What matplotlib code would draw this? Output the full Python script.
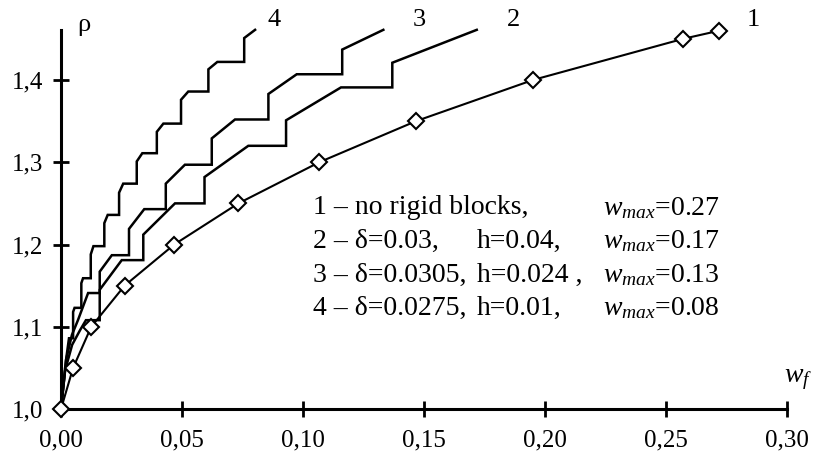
import matplotlib
matplotlib.use("Agg")
import matplotlib.pyplot as plt

plt.rcParams['font.family'] = ['Liberation Serif', 'DejaVu Serif']
plt.rcParams['mathtext.fontset'] = 'custom'
plt.rcParams['mathtext.it'] = 'Liberation Serif:italic'
plt.rcParams['mathtext.rm'] = 'Liberation Serif'

# ---- data ----
x_ticks = [0.00, 0.05, 0.10, 0.15, 0.20, 0.25, 0.30]
x_tick_labels = ["0,00", "0,05", "0,10", "0,15", "0,20", "0,25", "0,30"]
y_ticks = [1.0, 1.1, 1.2, 1.3, 1.4]
y_tick_labels = ["1,0", "1,1", "1,2", "1,3", "1,4"]

# curve 1: no rigid blocks (diamond markers)
x1 = [0.0, 0.0050, 0.0125, 0.0263, 0.0468, 0.0733, 0.1067, 0.1467, 0.195, 0.257, 0.272]
y1 = [1.00, 1.05, 1.10, 1.15, 1.20, 1.25, 1.30, 1.35, 1.40, 1.45, 1.46]

# curve 2
x2 = [0.0, 0.0017, 0.0046, 0.0079, 0.0103, 0.0160, 0.0160, 0.0251, 0.0340, 0.0340,
      0.0471, 0.0593, 0.0593, 0.0774, 0.0930, 0.0930, 0.1157, 0.1369, 0.1369, 0.1718]
y2 = [1.000, 1.047, 1.078, 1.096, 1.108, 1.108, 1.145, 1.181, 1.181, 1.212,
      1.250, 1.250, 1.282, 1.320, 1.320, 1.351, 1.391, 1.391, 1.421, 1.461]

# curve 3
x3 = [0.0, 0.0021, 0.0045, 0.0070, 0.0112, 0.0160, 0.0160, 0.0210, 0.0281, 0.0281,
      0.0344, 0.0433, 0.0433, 0.0512, 0.0623, 0.0623, 0.0719, 0.0857, 0.0857, 0.0974,
      0.1162, 0.1162, 0.1332]
y3 = [1.000, 1.060, 1.090, 1.108, 1.141, 1.141, 1.167, 1.187, 1.187, 1.219,
      1.243, 1.243, 1.274, 1.297, 1.297, 1.329, 1.352, 1.352, 1.383, 1.407,
      1.407, 1.437, 1.461]

# curve 4
x4 = [0.0, 0.0021, 0.0033, 0.0050, 0.0050, 0.0056, 0.0084, 0.0084, 0.0091, 0.0123,
      0.0123, 0.0134, 0.0179, 0.0179, 0.0193, 0.0240, 0.0240, 0.0257, 0.0313, 0.0313,
      0.0336, 0.0396, 0.0396, 0.0423, 0.0496, 0.0496, 0.0526, 0.0609, 0.0609, 0.0646,
      0.0757, 0.0757, 0.0802]
y4 = [1.000, 1.060, 1.086, 1.086, 1.118, 1.123, 1.123, 1.153, 1.159, 1.159,
      1.188, 1.198, 1.198, 1.226, 1.236, 1.236, 1.263, 1.274, 1.274, 1.301,
      1.311, 1.311, 1.337, 1.347, 1.347, 1.376, 1.386, 1.386, 1.413, 1.422,
      1.422, 1.451, 1.461]

curve_names = ["1", "2", "3", "4"]
legend_a = ["1 – no rigid blocks,", "2 – δ=0.03,", "3 – δ=0.0305,", "4 – δ=0.0275,"]
legend_b = ["", "h=0.04,", "h=0.024 ,", "h=0.01,"]
legend_c = ["$w_{max}$=0.27", "$w_{max}$=0.17", "$w_{max}$=0.13", "$w_{max}$=0.08"]

# ---- figure ----
W, H = 827, 467
fig = plt.figure(figsize=(W / 100, H / 100), dpi=100)
fig.patch.set_facecolor("white")

def fx(px):
    return px / W

def fy(py):
    return 1 - py / H

ax = fig.add_axes([fx(61), fy(409), (787 - 61) / W, (409 - 30) / H])
ax.set_xlim(0, 0.30)
ax.set_ylim(1.0, 1.4608)

lw = 1.8
ax.plot(x4, y4, color="black", lw=lw, clip_on=False, solid_joinstyle="miter")
ax.plot(x3, y3, color="black", lw=lw, clip_on=False, solid_joinstyle="miter")
ax.plot(x2, y2, color="black", lw=lw, clip_on=False, solid_joinstyle="miter")
ax.plot(x1, y1, color="black", lw=1.5, marker="D", markersize=8,
        markerfacecolor="white", markeredgecolor="black", markeredgewidth=1.5,
        clip_on=False, zorder=5)

for s in ["top", "right"]:
    ax.spines[s].set_visible(False)
for s in ["left", "bottom"]:
    ax.spines[s].set_linewidth(2.2)

ax.set_xticks(x_ticks)
ax.set_xticklabels(x_tick_labels)
ax.set_yticks(y_ticks)
ax.set_yticklabels(y_tick_labels)
ax.tick_params(axis="both", direction="inout", length=11.5, width=2.0,
               labelsize=18)
ax.tick_params(axis="x", pad=9)
ax.tick_params(axis="y", pad=7)

# axis labels
fig.text(fx(84), fy(25), "ρ", fontsize=19, ha="center", va="center")
fig.text(fx(798), fy(380), "$w_f$", fontsize=20, ha="center", va="center")

# curve numbers
label_x = [753, 513, 419, 274]
for name, px in zip(curve_names, label_x):
    fig.text(fx(px), fy(20), name, fontsize=19, ha="center", va="center")

# legend-like text block
rows_y = [208, 241, 275, 308]
for i, py in enumerate(rows_y):
    fig.text(fx(313), fy(py), legend_a[i], fontsize=20, ha="left", va="center")
    if legend_b[i]:
        fig.text(fx(477), fy(py), legend_b[i], fontsize=20, ha="left", va="center")
    fig.text(fx(603), fy(py), legend_c[i], fontsize=20, ha="left", va="center")

fig.savefig("out.png", dpi=100)
